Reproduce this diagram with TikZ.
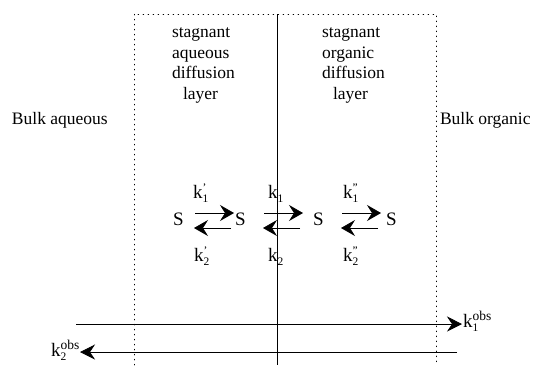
\documentclass[tikz,border=0pt]{standalone}
\usepackage{fontspec}
\setmainfont{Liberation Serif}
\usetikzlibrary{arrows.meta}
\newcommand{\smallidx}[1]{\hbox{\fontsize{11.5}{11.5}\selectfont #1}}
\newcommand{\obsidx}[1]{\hbox{\fontsize{13.5}{13.5}\selectfont #1}}
\newcommand{\kidx}[2]{k$_{\smallidx{#1}}^{\smallidx{#2}}$}
\newcommand{\kobs}[1]{k$_{\smallidx{#1}}^{\obsidx{obs}}$}
\begin{document}
\begin{tikzpicture}[x=1pt,y=-1pt,
  lbl/.style={font=\fontsize{17.5}{20.5}\selectfont, inner sep=0pt, outer sep=0pt},
  big/.style={font=\fontsize{19}{22}\selectfont, inner sep=0pt, outer sep=0pt},
  dotline/.style={line width=0.7pt, dash pattern=on 0.7pt off 4.3pt, line cap=round},
  eq/.style={line width=0.7pt, -{Stealth[length=14pt,width=16pt,inset=5pt]}},
  obs/.style={line width=0.7pt, -{Stealth[length=15pt,width=15pt,inset=5pt]}}]
\useasboundingbox (0,0) rectangle (534,365);
% frame lines
\coordinate (tl) at (134,14); \coordinate (bl) at (134,365);
\coordinate (tr) at (436,14); \coordinate (br) at (436,365);
\coordinate (tc) at (277,14); \coordinate (bc) at (277,365);
\draw[dotline] (bl) -- (tl) -- (tr) -- (br);
\draw[line width=0.6pt] (tc) -- (bc);
% layer labels (anchored at the baseline of the last line)
\node[lbl, align=left, anchor=base west] (aq) at (172,99) {stagnant\\aqueous\\diffusion\\\hspace*{11pt}layer};
\node[lbl, align=left, anchor=base west] (org) at (322,99) {stagnant\\organic\\diffusion\\\hspace*{11pt}layer};
\node[lbl, anchor=base west] (ba) at (12,124) {Bulk aqueous};
\node[lbl, anchor=base west] (bo) at (440,124) {Bulk organic};
% species
\node[big, anchor=base west] (s1) at (173,225) {S};
\node[big, anchor=base west] (s2) at (235,225) {S};
\node[big, anchor=base west] (s3) at (313,225) {S};
\node[big, anchor=base west] (s4) at (386,225) {S};
% equilibrium arrows
\coordinate (a1l) at (195,213); \coordinate (a1r) at (234,213);
\coordinate (b1r) at (231,228); \coordinate (b1l) at (194,228);
\coordinate (a2l) at (264,213); \coordinate (a2r) at (303,213);
\coordinate (b2r) at (300,228); \coordinate (b2l) at (263,228);
\coordinate (a3l) at (342,213); \coordinate (a3r) at (381,213);
\coordinate (b3r) at (378,228); \coordinate (b3l) at (341,228);
\draw[eq] (a1l) -- (a1r);
\draw[eq] (b1r) -- (b1l);
\draw[eq] (a2l) -- (a2r);
\draw[eq] (b2r) -- (b2l);
\draw[eq] (a3l) -- (a3r);
\draw[eq] (b3r) -- (b3l);
% rate constants
\node[big, anchor=base west] (k1a) at (193,198) {\kidx{1}{'}};
\node[big, anchor=base west] (k2a) at (194,261) {\kidx{2}{'}};
\node[big, anchor=base west] (k1b) at (268,198) {\kidx{1}{}};
\node[big, anchor=base west] (k2b) at (268,261) {\kidx{2}{}};
\node[big, anchor=base west] (k1c) at (343,198) {\kidx{1}{''}};
\node[big, anchor=base west] (k2c) at (343,261) {\kidx{2}{''}};
% observed rate arrows
\node[big, anchor=base west] (k1o) at (463,327) {\kobs{1}};
\node[big, anchor=base east] (k2o) at (80,356) {\kobs{2}};
\coordinate (o1l) at (76,324);
\coordinate (o1r) at (462,324);
\coordinate (o2r) at (457,352);
\coordinate (o2l) at (80,352);
\draw[obs] (o1l) -- (o1r);
\draw[obs] (o2r) -- (o2l);
\end{tikzpicture}
\end{document}
